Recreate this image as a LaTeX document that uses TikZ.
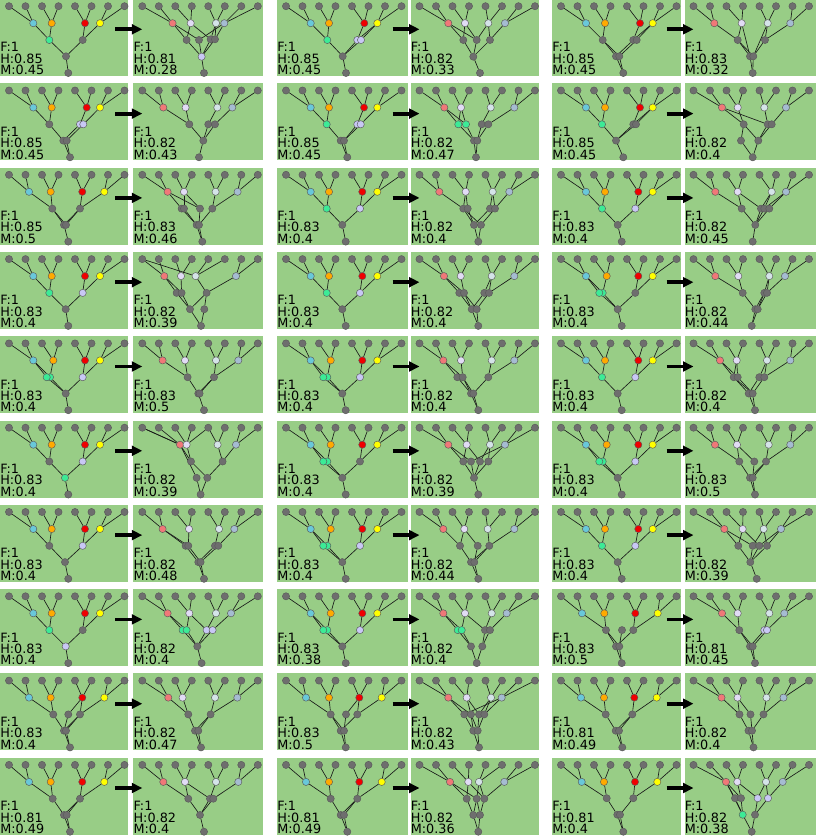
\documentclass[tikz,border=0pt]{standalone}
\usepackage{fontspec}
\setmainfont{DejaVu Sans}
\usetikzlibrary{arrows.meta}
\definecolor{pbg}{RGB}{152,205,134}
\definecolor{gy}{RGB}{110,110,110}
\definecolor{Lc1}{RGB}{105,200,218}
\definecolor{Lc2}{RGB}{255,170,0}
\definecolor{Lc3}{RGB}{240,0,0}
\definecolor{Lc4}{RGB}{255,255,0}
\definecolor{Rc1}{RGB}{240,120,120}
\definecolor{Rc2}{RGB}{225,220,245}
\definecolor{Rc3}{RGB}{212,228,232}
\definecolor{Rc4}{RGB}{165,188,210}
\definecolor{gn}{RGB}{60,235,150}
\definecolor{lv}{RGB}{200,200,245}
\tikzset{
 nd/.style={circle,draw=black!65,line width=0.45pt,minimum size=7.2pt,inner sep=0pt},
 ed/.style={draw=black!90,line width=0.65pt},
 lbl/.style={anchor=base west,inner sep=0pt,text depth=0pt,font=\fontsize{12.8}{12.8}\selectfont},
 arr/.style={line width=3.8pt,-{Triangle[length=10.5pt,width=9.8pt]}}
}
\newcommand\NdInv[4]{\node[nd,draw=none] (\pid#1) at (#2,#3) {};}
\newcommand\NdVis[4]{\node[nd,fill=#4] (\pid#1) at (#2,#3) {};}
\newcommand\EdDraw[2]{\draw[ed] (\pid#1) -- (\pid#2);}
\newcommand\EdNone[2]{}
\newcommand\Tree[2]{%
\foreach \i in {1,...,8}{\pgfmathsetmacro\xx{9+16.5*(\i-1)}\Nd{l\i}{\xx}{7.2}{gy}}%
\foreach \x [count=\i] in {#2}{\edef\cc{#1\i}\Nd{b\i}{\x}{24.2}{\cc}%
 \pgfmathtruncatemacro\ja{2*\i-1}\pgfmathtruncatemacro\jb{2*\i}%
 \Ed{b\i}{l\ja}\Ed{b\i}{l\jb}}}
\newcommand\Panel[9]{%
\begin{scope}[shift={(#2,{-1+84.3*(#3-1)})}]
\def\pid{#1}%
\fill[pbg] (0,0) rectangle (#4,77);
\let\Nd\NdInv\let\Ed\EdDraw
\Tree{#5}{#6}#7
\let\Nd\NdVis\let\Ed\EdNone
\Tree{#5}{#6}#7
\node[lbl] (#1tf) at (0.1,52.9) {F:1};
\node[lbl] (#1th) at (0.1,64.3) {H:#8};
\node[lbl] (#1tm) at (0.1,75.7) {M:#9};
\end{scope}}
\newcommand\Arr[3]{%
 \coordinate (#1t) at ({#2-18},{-1+84.3*(#3-1)+30.3});
 \coordinate (#1h) at ({#2+9},{-1+84.3*(#3-1)+30.3});
 \draw[arr] (#1t) -- (#1h);}
% left-panel lower part: c1x c1col c2x c2col d1x d1col rx
\newcommand\LL[7]{\Nd{c1}{#1}{41}{#2}\Nd{c2}{#3}{41}{#4}\Nd{d1}{#5}{57.3}{#6}\Nd{r}{#7}{74}{gy}%
\Ed{b1}{c1}\Ed{b2}{c1}\Ed{b3}{c2}\Ed{b4}{c2}\Ed{c1}{d1}\Ed{c2}{d1}\Ed{d1}{r}}
% right-panel lower part: four nodes, two middle, root, then edges
\newcommand\RR[8]{\Nd{c1}{#1}{41}{gy}\Nd{c2}{#2}{41}{gy}\Nd{c3}{#3}{41}{gy}\Nd{c4}{#4}{41}{gy}\Nd{d1}{#5}{57.3}{gy}\Nd{d2}{#6}{57.3}{gy}\Nd{r}{#7}{74}{gy}#8}
% three nodes, two middle, root
\newcommand\RT[7]{\Nd{c1}{#1}{41}{gy}\Nd{c2}{#2}{41}{gy}\Nd{c3}{#3}{41}{gy}\Nd{d1}{#4}{57.3}{gy}\Nd{d2}{#5}{57.3}{gy}\Nd{r}{#6}{74}{gy}#7}
\begin{document}
\begin{tikzpicture}[x=1pt,y=-1pt]
\useasboundingbox (0,0) rectangle (816,836);
% ---------- column pair 1 ----------
\Panel{a1}{0}{1}{127.5}{Lc}{33.3,51.7,85,100}{\LL{49.3}{gn}{82.7}{gy}{66}{gy}{68.3}}{0.85}{0.45}
\Panel{b1}{133.3}{1}{130}{Rc}{39.3,57.4,82.7,91}{\Nd{c1}{53.3}{41}{gy}\Nd{c2}{65.7}{41}{gy}\Nd{c3}{77.3}{40.3}{gy}\Nd{c4}{81.7}{40.3}{gy}\Nd{d1}{68.3}{57.7}{lv}\Nd{r}{70.7}{74}{gy}%
\Ed{b1}{c1}\Ed{b1}{c2}\Ed{b2}{c1}\Ed{b2}{c3}\Ed{b3}{c3}\Ed{b3}{c4}\Ed{b4}{c4}\Ed{b4}{c2}\Ed{c1}{d1}\Ed{c2}{d1}\Ed{c3}{d1}\Ed{c4}{d1}\Ed{d1}{r}}{0.81}{0.28}
\Arr{x1}{133.3}{1}
\Panel{a2}{0}{2}{127.5}{Lc}{33.3,51.7,86.7,100}{\Nd{c1}{49.3}{41}{gy}\Nd{c2}{80}{41}{lv}\Nd{c5}{83.3}{41}{lv}\Nd{d1}{63.3}{57.3}{gy}\Nd{d2}{66.7}{57.3}{gy}\Nd{r}{70}{74}{gy}%
\Ed{b1}{c1}\Ed{b2}{c1}\Ed{b3}{c2}\Ed{b4}{c5}\Ed{c1}{d1}\Ed{c2}{d1}\Ed{c5}{d2}\Ed{d1}{r}\Ed{d2}{r}}{0.85}{0.45}
\Panel{b2}{133.3}{2}{130}{Rc}{30,52.3,84,99}{\Nd{c1}{56}{41}{gy}\Nd{c2}{75}{41}{gy}\Nd{c3}{81.7}{41}{gy}\Nd{d1}{70}{57.3}{gy}\Nd{r}{65.7}{74}{gy}%
\Ed{b1}{c1}\Ed{b2}{c1}\Ed{b3}{c2}\Ed{b4}{c3}\Ed{c1}{d1}\Ed{c2}{d1}\Ed{c3}{d1}\Ed{d1}{r}}{0.82}{0.43}
\Arr{x2}{133.3}{2}
\Panel{a3}{0}{3}{127.5}{Lc}{29,50.7,82.3,104.3}{\Nd{c1}{52.3}{41}{gy}\Nd{c2}{80}{41}{gy}\Nd{d1}{64}{57.3}{gy}\Nd{d2}{66}{57.3}{gy}\Nd{r}{68.3}{74}{gy}%
\Ed{b1}{c1}\Ed{b2}{c1}\Ed{b3}{c2}\Ed{b4}{c2}\Ed{c1}{d1}\Ed{c1}{d2}\Ed{c2}{d1}\Ed{c2}{d2}\Ed{d1}{r}}{0.85}{0.5}
\Panel{b3}{133.3}{3}{130}{Rc}{34.3,50.7,82.3,104.3}{\RR{48.3}{50.7}{66.7}{79}{63.3}{65.7}{69}{%
\Ed{b1}{c1}\Ed{b1}{c3}\Ed{b2}{c2}\Ed{b2}{c3}\Ed{b3}{c4}\Ed{b4}{c4}\Ed{c1}{d1}\Ed{c2}{d1}\Ed{c3}{d2}\Ed{c4}{d2}\Ed{d1}{r}\Ed{d2}{r}}}{0.83}{0.46}
\Arr{x3}{133.3}{3}
\Panel{a4}{0}{4}{127.5}{Lc}{33.3,51.7,85,100}{\LL{49.3}{gn}{82.7}{lv}{65.7}{gy}{68.3}}{0.83}{0.4}
\Panel{b4}{133.3}{4}{130}{Rc}{31,47.7,62.3,102.7}{\RT{43.3}{48.3}{73.3}{56.7}{71}{67.7}{%
\Ed{l1}{b3}\Ed{b1}{c1}\Ed{b1}{c2}\Ed{b2}{c2}\Ed{b3}{c3}\Ed{b4}{c3}\Ed{c1}{d1}\Ed{c2}{d1}\Ed{c3}{d1}\Ed{c3}{d2}\Ed{d1}{r}\Ed{d2}{r}}}{0.82}{0.39}
\Arr{x4}{133.3}{4}
\Panel{a5}{0}{5}{127.5}{Lc}{33.3,53.3,85,100}{\LL{50}{gn}{82.7}{lv}{65.7}{gy}{68.3}\Nd{c5}{46.7}{41}{gn}\Ed{b1}{c5}\Ed{c5}{d1}}{0.83}{0.4}
\Panel{b5}{133.3}{5}{130}{Rc}{29.3,51.7,82.7,105}{\Nd{c1}{54.3}{41}{gy}\Nd{c2}{80.7}{41}{gy}\Nd{d1}{65}{57.3}{gy}\Nd{d2}{66.3}{57.3}{gy}\Nd{r}{70.7}{74}{gy}%
\Ed{b1}{c1}\Ed{b2}{c1}\Ed{b3}{c2}\Ed{b4}{c2}\Ed{c1}{d1}\Ed{c2}{d1}\Ed{c2}{d2}\Ed{d1}{r}}{0.83}{0.5}
\Arr{x5}{133.3}{5}
\Panel{a6}{0}{6}{127.5}{Lc}{33.3,51.7,85,100}{\LL{49.3}{gy}{82.7}{lv}{65}{gn}{68.3}}{0.83}{0.4}
\Panel{b6}{133.3}{6}{130}{Rc}{46.7,53.3,84.3,102.7}{\Nd{c1}{57.7}{41}{gy}\Nd{c2}{89.3}{41}{gy}\Nd{d1}{63.3}{57.3}{gy}\Nd{d2}{74}{57.3}{gy}\Nd{r}{67.3}{74}{gy}%
\Ed{l1}{b1}\Ed{l5}{b2}\Ed{b1}{c1}\Ed{b2}{c1}\Ed{b3}{c2}\Ed{b4}{c2}\Ed{c1}{d2}\Ed{c2}{d2}\Ed{d1}{r}\Ed{d2}{r}\Ed{b1}{d1}}{0.82}{0.39}
\Arr{x6}{133.3}{6}
\Panel{a7}{0}{7}{127.5}{Lc}{33.3,51.7,85,100}{\LL{49.3}{gy}{82.7}{lv}{65}{gy}{68.3}}{0.83}{0.4}
\Panel{b7}{133.3}{7}{130}{Rc}{29.3,55.7,85.7,101}{\RR{52.3}{55}{81.7}{85}{65}{67.3}{70.7}{%
\Ed{b1}{c1}\Ed{b2}{c2}\Ed{b1}{c2}\Ed{b3}{c3}\Ed{b4}{c4}\Ed{c1}{d1}\Ed{c2}{d2}\Ed{c3}{d1}\Ed{c4}{d2}\Ed{d1}{r}\Ed{d2}{r}}}{0.82}{0.48}
\Arr{x7}{133.3}{7}
\Panel{a8}{0}{8}{127.5}{Lc}{33.3,51.7,85,100}{\LL{49.3}{gn}{82.7}{gy}{65.7}{lv}{68.3}}{0.83}{0.4}
\Panel{b8}{133.3}{8}{130}{Rc}{34.3,56,82.7,97.7}{\Nd{c1}{49.3}{41}{gn}\Nd{c2}{53.3}{41}{gn}\Nd{c3}{73.3}{41}{lv}\Nd{c4}{79.3}{41}{lv}\Nd{d1}{64}{57.3}{gy}\Nd{r}{68.3}{74}{gy}%
\Ed{b1}{c1}\Ed{b2}{c2}\Ed{b1}{c2}\Ed{b2}{c3}\Ed{b3}{c3}\Ed{b4}{c4}\Ed{c1}{d1}\Ed{c2}{d1}\Ed{c3}{d1}\Ed{c4}{d1}\Ed{d1}{r}}{0.82}{0.4}
\Arr{x8}{133.3}{8}
\Panel{a9}{0}{9}{127.5}{Lc}{29,50.7,82.3,104.3}{\LL{53.3}{gy}{80}{gy}{64}{gy}{70}\Nd{c5}{68.3}{41}{gy}\Nd{d2}{66}{57.3}{gy}\Ed{b3}{c5}\Ed{c5}{d1}\Ed{d2}{r}\Ed{c2}{d2}}{0.83}{0.4}
\Panel{b9}{133.3}{9}{130}{Rc}{35,49.3,81.7,104}{\Nd{c1}{55}{41}{gy}\Nd{c2}{77.3}{41}{gy}\Nd{d1}{61.7}{57.3}{gy}\Nd{d2}{65}{57.3}{gy}\Nd{r}{67.7}{74}{gy}%
\Ed{b1}{c1}\Ed{b2}{c1}\Ed{b3}{c2}\Ed{b4}{c2}\Ed{c1}{d1}\Ed{c2}{d1}\Ed{c2}{d2}\Ed{d1}{r}\Ed{d2}{r}}{0.82}{0.47}
\Arr{x9}{133.3}{9}
\Panel{a10}{0}{10}{127.5}{Lc}{29,50.7,82.3,104.3}{\LL{52.7}{gy}{80}{gy}{64}{gy}{70}\Nd{d2}{66.7}{57.3}{gy}\Ed{d2}{r}\Ed{c2}{d2}}{0.81}{0.49}
\Panel{b10}{133.3}{10}{130}{Rc}{30,51.7,82.7,105}{\Nd{c1}{55}{41}{gy}\Nd{c2}{76.7}{41}{gy}\Nd{c3}{80}{41}{gy}\Nd{d1}{66.7}{57.3}{gy}\Nd{r}{70.7}{74}{gy}%
\Ed{b1}{c1}\Ed{b2}{c1}\Ed{b3}{c2}\Ed{b4}{c3}\Ed{b2}{c2}\Ed{c1}{d1}\Ed{c2}{d1}\Ed{c3}{d1}\Ed{d1}{r}}{0.82}{0.4}
\Arr{x10}{133.3}{10}
% ---------- column pair 2 ----------
\Panel{c1}{277}{1}{131}{Lc}{33.7,52,87.3,100.3}{\LL{50.3}{gn}{80.3}{lv}{65.7}{gy}{69}\Nd{c5}{84}{41}{lv}\Ed{b4}{c5}\Ed{c5}{d1}}{0.85}{0.45}
\Panel{d1}{410.5}{1}{128.5}{Rc}{37.8,54.5,77.8,94.5}{\Nd{c1}{52.8}{41}{gy}\Nd{c2}{66.2}{41}{gy}\Nd{c3}{79.5}{41}{gy}\Nd{d1}{62.8}{57.7}{gy}\Nd{r}{69.5}{74}{gy}%
\Ed{b1}{c1}\Ed{b1}{c2}\Ed{b2}{c1}\Ed{b2}{c2}\Ed{b3}{c3}\Ed{b4}{c3}\Ed{b3}{c2}\Ed{c1}{d1}\Ed{c2}{d1}\Ed{c3}{d1}\Ed{d1}{r}}{0.82}{0.33}
\Arr{y1}{410.5}{1}
\Panel{c2}{277}{2}{131}{Lc}{33.7,52,87,100.3}{\Nd{c1}{49.7}{41}{gn}\Nd{c2}{80.3}{41}{lv}\Nd{c5}{83.7}{41}{lv}\Nd{d1}{63.7}{57.3}{gy}\Nd{d2}{67}{57.3}{gy}\Nd{r}{70.3}{74}{gy}%
\Ed{b1}{c1}\Ed{b2}{c1}\Ed{b3}{c2}\Ed{b4}{c5}\Ed{c1}{d1}\Ed{c2}{d2}\Ed{c5}{d2}\Ed{d1}{r}\Ed{d2}{r}}{0.85}{0.45}
\Panel{d2}{410.5}{2}{128.5}{Rc}{33.8,50.5,80.2,103.8}{\Nd{c1}{47.8}{41}{gn}\Nd{c2}{55.5}{41}{gn}\Nd{c3}{71.2}{41}{gy}\Nd{c4}{77.8}{41}{gy}\Nd{d1}{63.5}{57.3}{gy}\Nd{d2}{66.8}{57.3}{gy}\Nd{r}{65.5}{74}{gy}%
\Ed{b1}{c1}\Ed{b1}{c2}\Ed{b2}{c1}\Ed{b2}{c2}\Ed{b3}{c3}\Ed{b4}{c4}\Ed{c1}{d1}\Ed{c2}{d1}\Ed{c3}{d2}\Ed{c4}{d2}\Ed{d1}{r}\Ed{d2}{r}}{0.82}{0.47}
\Arr{y2}{410.5}{2}
\Panel{c3}{277}{3}{131}{Lc}{33.7,52,85.3,100.3}{\LL{49.7}{gn}{83}{lv}{65.3}{gy}{68.7}}{0.83}{0.4}
\Panel{d3}{410.5}{3}{128.5}{Rc}{28.8,55.2,82.2,98.8}{\RR{52.8}{57.2}{79.5}{84.5}{63.5}{70.5}{67.8}{%
\Ed{b1}{c1}\Ed{b2}{c1}\Ed{b2}{c2}\Ed{b3}{c3}\Ed{b4}{c4}\Ed{b3}{c4}\Ed{c1}{d2}\Ed{c2}{d1}\Ed{c3}{d1}\Ed{c4}{d2}\Ed{c1}{d1}\Ed{d1}{r}\Ed{d2}{r}}}{0.82}{0.4}
\Arr{y3}{410.5}{3}
\Panel{c4}{277}{4}{131}{Lc}{33.7,52,85.3,100.3}{\LL{49.7}{gn}{83}{lv}{65.3}{gy}{68.7}}{0.83}{0.4}
\Panel{d4}{410.5}{4}{128.5}{Rc}{33.5,50.2,81.2,103.8}{\RR{48.8}{53.5}{73.8}{78.5}{61.2}{66.2}{67.8}{%
\Ed{b1}{c1}\Ed{b1}{c2}\Ed{b2}{c2}\Ed{b3}{c3}\Ed{b4}{c4}\Ed{b3}{c4}\Ed{c1}{d1}\Ed{c2}{d1}\Ed{c3}{d1}\Ed{c4}{d2}\Ed{c2}{d2}\Ed{d1}{r}\Ed{d2}{r}}}{0.82}{0.4}
\Arr{y4}{410.5}{4}
\Panel{c5}{277}{5}{131}{Lc}{33.7,53.7,85.3,100.3}{\LL{50.3}{gn}{83}{lv}{65.3}{gy}{68.7}\Nd{c5}{46.3}{41}{gn}\Ed{b1}{c5}\Ed{c5}{d1}}{0.83}{0.4}
\Panel{d5}{410.5}{5}{128.5}{Rc}{32.8,50.5,81.2,103.8}{\RT{46.8}{52.2}{77.8}{60.5}{62.8}{67.8}{%
\Ed{b1}{c1}\Ed{b2}{c2}\Ed{b1}{c2}\Ed{b3}{c3}\Ed{b4}{c3}\Ed{c1}{d1}\Ed{c2}{d1}\Ed{c3}{d2}\Ed{c2}{d2}\Ed{d1}{r}\Ed{d2}{r}}}{0.82}{0.4}
\Arr{y5}{410.5}{5}
\Panel{c6}{277}{6}{131}{Lc}{33.7,53.7,85.3,100.3}{\LL{50.3}{gn}{83}{gy}{65.3}{gy}{68.7}\Nd{c5}{46.3}{41}{gn}\Ed{b1}{c5}\Ed{c5}{d1}}{0.83}{0.4}
\Panel{d6}{410.5}{6}{128.5}{Rc}{37.8,56.2,79.5,94.5}{\Nd{c1}{52.8}{41}{gy}\Nd{c2}{60.5}{41}{gy}\Nd{c3}{69.5}{41}{gy}\Nd{c4}{77.8}{41}{gy}\Nd{d1}{63.5}{57.3}{gy}\Nd{r}{67.8}{74}{gy}%
\Ed{b1}{c1}\Ed{b1}{c2}\Ed{b2}{c1}\Ed{b2}{c3}\Ed{b3}{c3}\Ed{b3}{c4}\Ed{b4}{c4}\Ed{b4}{c2}\Ed{c1}{d1}\Ed{c2}{d1}\Ed{c3}{d1}\Ed{c4}{d1}\Ed{d1}{r}}{0.82}{0.39}
\Arr{y6}{410.5}{6}
\Panel{c7}{277}{7}{131}{Lc}{33.7,53.7,85.3,100.3}{\LL{50.3}{gn}{83}{lv}{65.3}{gy}{68.7}\Nd{c5}{46.3}{41}{gn}\Ed{b1}{c5}\Ed{c5}{d1}}{0.83}{0.4}
\Panel{d7}{410.5}{7}{128.5}{Rc}{32.8,53.8,77.2,103.8}{\RT{49.5}{67.2}{78.8}{60.5}{63.8}{67.8}{%
\Ed{b1}{c1}\Ed{b2}{c1}\Ed{b2}{c2}\Ed{b3}{c3}\Ed{b4}{c3}\Ed{c1}{d1}\Ed{c2}{d2}\Ed{c3}{d1}\Ed{c3}{d2}\Ed{d1}{r}\Ed{d2}{r}}}{0.82}{0.44}
\Arr{y7}{410.5}{7}
\Panel{c8}{277}{8}{131}{Lc}{33.7,53.7,85.3,100.3}{\LL{50.3}{gn}{83}{lv}{65.3}{gy}{68.7}\Nd{c5}{46.3}{41}{gn}\Ed{b1}{c5}\Ed{c5}{d1}}{0.83}{0.38}
\Panel{d8}{410.5}{8}{128.5}{Rc}{32.8,54.5,81.2,96.2}{\Nd{c1}{47.2}{41}{gn}\Nd{c2}{51.2}{41}{gn}\Nd{c3}{74.5}{41}{gy}\Nd{c4}{79.5}{41}{gy}\Nd{d1}{60.5}{57.3}{gy}\Nd{d2}{71.8}{57.3}{gy}\Nd{r}{66.2}{74}{gy}%
\Ed{b1}{c1}\Ed{b2}{c2}\Ed{b1}{c2}\Ed{b3}{c3}\Ed{b4}{c4}\Ed{b2}{c3}\Ed{c1}{d1}\Ed{c2}{d1}\Ed{c3}{d2}\Ed{c4}{d2}\Ed{d1}{r}\Ed{d2}{r}}{0.82}{0.4}
\Arr{y8}{410.5}{8}
\Panel{c9}{277}{9}{131}{Lc}{29,52,82.3,104.7}{\RT{53.7}{69}{80.3}{63.7}{67}{68.7}{%
\Ed{b1}{c1}\Ed{b2}{c1}\Ed{b3}{c3}\Ed{b4}{c3}\Ed{b3}{c2}\Ed{c1}{d1}\Ed{c3}{d1}\Ed{c2}{d2}\Ed{c1}{d2}\Ed{d1}{r}\Ed{d2}{r}}}{0.83}{0.5}
\Panel{d9}{410.5}{9}{128.5}{Rc}{37.8,56.2,80.5,91.2}{\RR{53.8}{60.5}{68.5}{73.8}{62.8}{67.2}{68.5}{%
\Ed{b1}{c1}\Ed{b1}{c2}\Ed{b2}{c2}\Ed{b2}{c3}\Ed{b3}{c3}\Ed{b3}{c4}\Ed{b4}{c4}\Ed{b4}{c1}\Ed{c1}{d1}\Ed{c2}{d1}\Ed{c3}{d2}\Ed{c4}{d2}\Ed{c2}{d2}\Ed{d1}{r}\Ed{d2}{r}}}{0.82}{0.43}
\Arr{y9}{410.5}{9}
\Panel{c10}{277}{10}{131}{Lc}{29,52,82.3,104.7}{\LL{53.7}{gy}{80.3}{gy}{63.7}{gy}{70.3}\Nd{d2}{67}{57.3}{gy}\Ed{d2}{r}\Ed{c2}{d2}}{0.81}{0.49}
\Panel{d10}{410.5}{10}{128.5}{Rc}{39.5,57.8,68.5,93.8}{\RT{56.2}{66.2}{73.8}{62.8}{69.5}{67.8}{%
\Ed{b1}{c1}\Ed{b1}{c2}\Ed{b2}{c1}\Ed{b2}{c3}\Ed{b3}{c2}\Ed{b3}{c3}\Ed{b4}{c3}\Ed{c1}{d1}\Ed{c2}{d1}\Ed{c2}{d2}\Ed{c3}{d2}\Ed{d1}{r}\Ed{d2}{r}}}{0.82}{0.36}
\Arr{y10}{410.5}{10}
% ---------- column pair 3 ----------
\Panel{e1}{552}{1}{129}{Lc}{34,53,88,100.7}{\LL{50.7}{gy}{81.3}{gy}{64}{gy}{71.3}\Nd{c5}{84.7}{41}{gy}\Nd{d2}{67.3}{57.3}{gy}\Ed{b4}{c5}\Ed{c5}{d2}\Ed{d2}{r}\Ed{c1}{d2}}{0.85}{0.45}
\Panel{f1}{684.5}{1}{131.5}{Rc}{29.8,57.2,83.2,105.8}{\Nd{c1}{53.2}{41}{gy}\Nd{c2}{80.5}{41}{gy}\Nd{d1}{65.5}{57.3}{gy}\Nd{d2}{68.8}{57.3}{gy}\Nd{r}{68.2}{74}{gy}%
\Ed{b1}{c1}\Ed{b2}{c1}\Ed{b2}{d1}\Ed{b3}{c2}\Ed{b4}{c2}\Ed{b3}{d2}\Ed{c1}{d1}\Ed{c2}{d2}\Ed{c1}{d2}\Ed{d1}{r}\Ed{d2}{r}}{0.83}{0.32}
\Arr{z1}{684.5}{1}
\Panel{e2}{552}{2}{129}{Lc}{34,53,88,100.7}{\LL{50}{gn}{81.3}{gy}{64}{gy}{71.3}\Nd{c5}{84}{41}{gy}\Ed{b4}{c5}\Ed{c5}{d1}}{0.85}{0.45}
\Panel{f2}{684.5}{2}{131.5}{Rc}{37.5,53.2,79.8,101.5}{\RT{59.2}{83.2}{87.2}{56.5}{73.8}{68.2}{%
\Ed{b1}{c1}\Ed{b2}{c1}\Ed{b3}{c2}\Ed{b4}{c3}\Ed{b1}{c2}\Ed{c1}{d1}\Ed{c1}{d2}\Ed{c2}{d2}\Ed{c3}{d2}\Ed{d1}{r}\Ed{d2}{r}}}{0.82}{0.4}
\Arr{z2}{684.5}{2}
\Panel{e3}{552}{3}{129}{Lc}{34,53,86.3,100.7}{\LL{50}{gn}{83.3}{lv}{65.7}{gy}{69.7}}{0.83}{0.4}
\Panel{f3}{684.5}{3}{131.5}{Rc}{30.8,53.2,87.2,101.5}{\Nd{c1}{57.2}{41}{gy}\Nd{c2}{76.5}{41}{gy}\Nd{c3}{79.8}{41}{gy}\Nd{c4}{84.8}{41}{gy}\Nd{d1}{70.8}{57.3}{gy}\Nd{r}{68.2}{74}{gy}%
\Ed{b1}{c1}\Ed{b2}{c1}\Ed{b2}{c2}\Ed{b3}{c2}\Ed{b3}{c3}\Ed{b4}{c4}\Ed{b4}{c3}\Ed{c1}{d1}\Ed{c2}{d1}\Ed{c3}{d1}\Ed{c4}{d1}\Ed{d1}{r}}{0.82}{0.45}
\Arr{z3}{684.5}{3}
\Panel{e4}{552}{4}{129}{Lc}{34,54.7,86.3,100.7}{\LL{50.7}{gn}{83.3}{gy}{65.7}{gy}{69.7}\Nd{c5}{47.3}{41}{gn}\Ed{b1}{c5}\Ed{c5}{d1}}{0.83}{0.4}
\Panel{f4}{684.5}{4}{131.5}{Rc}{30.8,53.8,84.8,100.5}{\RT{58.2}{79.8}{82.5}{70.8}{73.2}{67.2}{%
\Ed{b1}{c1}\Ed{b2}{c1}\Ed{b3}{c2}\Ed{b4}{c3}\Ed{b3}{c3}\Ed{c1}{d1}\Ed{c2}{d1}\Ed{c3}{d2}\Ed{c2}{d2}\Ed{d1}{r}\Ed{d2}{r}}}{0.82}{0.44}
\Arr{z4}{684.5}{4}
\Panel{e5}{552}{5}{129}{Lc}{34,53,86.3,100.7}{\LL{50}{gn}{83.3}{lv}{65.7}{gy}{69.7}}{0.83}{0.4}
\Panel{f5}{684.5}{5}{131.5}{Rc}{35.5,52.2,82.5,105.8}{\RR{49.2}{53.2}{74.8}{79.8}{64.2}{68.2}{70.5}{%
\Ed{b1}{c1}\Ed{b1}{c2}\Ed{b2}{c2}\Ed{b2}{c1}\Ed{b3}{c3}\Ed{b4}{c4}\Ed{b3}{c4}\Ed{c1}{d1}\Ed{c2}{d2}\Ed{c3}{d1}\Ed{c4}{d2}\Ed{c1}{d2}\Ed{d1}{r}\Ed{d2}{r}}}{0.82}{0.4}
\Arr{z5}{684.5}{5}
\Panel{e6}{552}{6}{129}{Lc}{34,54.7,86.3,100.7}{\LL{50.7}{gn}{83.3}{lv}{65.7}{gy}{69.7}\Nd{c5}{47.3}{41}{gn}\Ed{b1}{c5}\Ed{c5}{d1}}{0.83}{0.4}
\Panel{f6}{684.5}{6}{131.5}{Rc}{30.5,52.5,84.2,105.8}{\RT{54.8}{69.8}{81.5}{65.5}{68.2}{70.5}{%
\Ed{b1}{c1}\Ed{b2}{c1}\Ed{b2}{c2}\Ed{b3}{c3}\Ed{b4}{c3}\Ed{c1}{d1}\Ed{c2}{d2}\Ed{c3}{d1}\Ed{c3}{d2}\Ed{d1}{r}\Ed{d2}{r}}}{0.83}{0.5}
\Arr{z6}{684.5}{6}
\Panel{e7}{552}{7}{129}{Lc}{34,53,86.3,100.7}{\LL{50}{gn}{83.3}{lv}{65.7}{gy}{69.7}}{0.83}{0.4}
\Panel{f7}{684.5}{7}{131.5}{Rc}{39.8,58.2,79.2,96.5}{\Nd{c1}{53.8}{41}{gy}\Nd{c2}{68.2}{41}{gy}\Nd{c3}{74.8}{41}{gy}\Nd{c4}{82.5}{41}{gy}\Nd{d1}{65.8}{57.3}{gy}\Nd{r}{72.2}{74}{gy}%
\Ed{b1}{c1}\Ed{b1}{c2}\Ed{b2}{c1}\Ed{b2}{c3}\Ed{b3}{c2}\Ed{b3}{c4}\Ed{b4}{c3}\Ed{b4}{c4}\Ed{c1}{d1}\Ed{c2}{d1}\Ed{c3}{d1}\Ed{c4}{d1}\Ed{d1}{r}}{0.82}{0.39}
\Arr{z7}{684.5}{7}
\Panel{e8}{552}{8}{129}{Lc}{30,52.3,83.3,105.7}{\RT{54}{70}{81.3}{64}{67.3}{69.7}{%
\Ed{b1}{c1}\Ed{b2}{c1}\Ed{b3}{c3}\Ed{b4}{c3}\Ed{c1}{d1}\Ed{c3}{d1}\Ed{c2}{d2}\Ed{c1}{d2}\Ed{d1}{r}\Ed{d2}{r}}}{0.83}{0.5}
\Panel{f8}{684.5}{8}{131.5}{Rc}{37.5,53.2,84.8,99.8}{\Nd{c1}{54.8}{41}{gy}\Nd{c2}{79.8}{41}{lv}\Nd{c5}{82.5}{41}{lv}\Nd{d1}{65.5}{57.3}{gy}\Nd{d2}{68.2}{57.3}{gy}\Nd{r}{70.5}{74}{gy}%
\Ed{b1}{c1}\Ed{b2}{c1}\Ed{b3}{c2}\Ed{b4}{c5}\Ed{c1}{d1}\Ed{c2}{d1}\Ed{c5}{d2}\Ed{c1}{d2}\Ed{d1}{r}\Ed{d2}{r}}{0.81}{0.45}
\Arr{z8}{684.5}{8}
\Panel{e9}{552}{9}{129}{Lc}{29,52,82.3,104.7}{\LL{53.7}{gy}{80.3}{gy}{63.7}{gy}{70.3}\Nd{d2}{67}{57.3}{gy}\Ed{d2}{r}\Ed{c2}{d2}}{0.81}{0.49}
\Panel{f9}{684.5}{9}{131.5}{Rc}{37,53,82,99}{\RT{55}{66}{79}{64}{67.5}{69}{%
\Ed{b1}{c1}\Ed{b2}{c1}\Ed{b2}{c2}\Ed{b3}{c3}\Ed{b4}{c3}\Ed{c1}{d1}\Ed{c2}{d2}\Ed{c3}{d2}\Ed{d1}{r}\Ed{d2}{r}}}{0.82}{0.4}
\Arr{z9}{684.5}{9}
\Panel{e10}{552}{10}{129}{Lc}{29.7,52,83,105.3}{\Nd{c1}{54.7}{40.5}{gy}\Nd{c2}{81.3}{40.5}{gy}\Nd{d1}{65.3}{57}{gy}\Nd{d2}{68}{57}{gy}\Nd{r}{71.3}{74}{gy}%
\Ed{b1}{c1}\Ed{b2}{c1}\Ed{b3}{c2}\Ed{b4}{c2}\Ed{c1}{d1}\Ed{c2}{d2}\Ed{d1}{r}\Ed{d2}{r}}{0.81}{0.4}
\Panel{f10}{684.5}{10}{131.5}{Rc}{41.5,52.8,81.5,98.2}{\Nd{c1}{50.5}{40.5}{gy}\Nd{c2}{56.5}{40.5}{gy}\Nd{c3}{73.2}{40.5}{lv}\Nd{c4}{83.5}{40.5}{lv}\Nd{d1}{58.2}{57}{gn}\Nd{d2}{70.5}{57}{gy}\Nd{r}{67.2}{74}{gy}%
\Ed{b1}{c1}\Ed{b1}{c2}\Ed{b2}{c2}\Ed{b2}{c3}\Ed{b3}{c3}\Ed{b3}{c4}\Ed{b4}{c4}\Ed{b1}{d1}\Ed{c1}{d1}\Ed{c2}{d1}\Ed{c3}{d2}\Ed{c4}{d2}\Ed{d1}{r}\Ed{d2}{r}}{0.82}{0.38}
\Arr{z10}{684.5}{10}
\end{tikzpicture}
\end{document}
